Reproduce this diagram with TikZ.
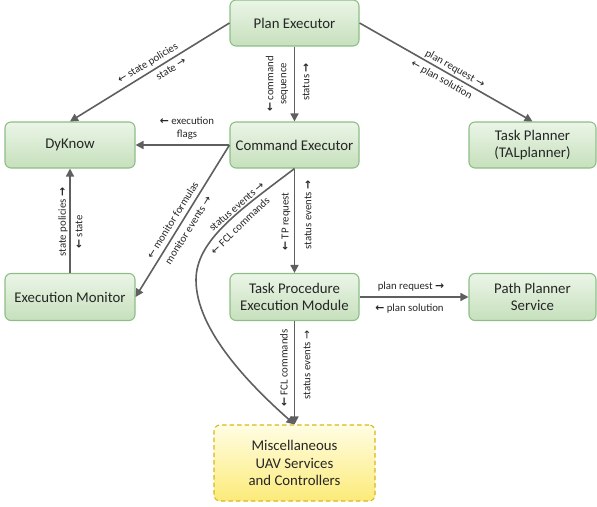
\documentclass[tikz,border=0pt]{standalone}
\usepackage{fontspec}
\setmainfont{Carlito}
\newfontfamily\arrfont{DejaVu Sans}
\usetikzlibrary{arrows.meta}
\definecolor{gtop}{HTML}{EBF5E7}
\definecolor{gbot}{HTML}{C6E0BC}
\definecolor{gborder}{HTML}{8DBE86}
\definecolor{ytop}{HTML}{FFFDE3}
\definecolor{ybot}{HTML}{FCEB79}
\definecolor{yborder}{HTML}{D6B81A}
\definecolor{lne}{HTML}{5F5F5F}
\newcommand{\myla}{{\arrfont ←}}
\newcommand{\myra}{{\arrfont →}}
\newcommand{\myLa}{{\arrfont\bfseries ←}}
\newcommand{\myRa}{{\arrfont\bfseries →}}
\begin{document}
\begin{tikzpicture}[x=1pt,y=-1pt,
 box/.style={draw=gborder, line width=1.1pt, rounded corners=6pt, top color=gtop, bottom color=gbot,
   minimum width=129pt, minimum height=46pt, inner sep=0pt, align=center,
   font=\fontsize{14.8}{17.5}\selectfont, text=black!85},
 miscbox/.style={box, draw=yborder, dash pattern=on 4.5pt off 3pt, top color=ytop, bottom color=ybot,
   minimum width=161pt, minimum height=76pt},
 conn/.style={draw=lne, line width=1.6pt, -{Triangle[length=8pt,width=8pt]}},
 lbl/.style={font=\fontsize{10.8}{13}\selectfont, inner sep=0pt, align=center, text=black!85}]
\useasboundingbox (0,0) rectangle (597,506);

\node[box] (pe) at (294.5,23) {Plan Executor};
\node[box, minimum width=130pt] (dk) at (70,145) {DyKnow};
\node[box] (ce) at (294.5,145) {Command Executor};
\node[box, minimum width=127pt] (tp) at (532.5,145) {Task Planner\\(TALplanner)};
\node[box, minimum width=130pt, minimum height=47pt] (em) at (70,297) {Execution Monitor};
\node[box, minimum height=47pt] (tpem) at (294.5,297) {Task Procedure\\Execution Module};
\node[box, minimum width=127pt, minimum height=47pt] (pps) at (532.5,297) {Path Planner\\Service};
\node[miscbox] (misc) at (294.5,463) {Miscellaneous\\UAV Services\\and Controllers};

\draw[conn] (pe.west) -- (dk.north);
\draw[conn] (pe.east) -- (tp.north);
\draw[conn] (pe.south) -- (ce.north);
\draw[conn] (ce.west) -- (dk.east);
\draw[conn] (ce.west) -- (em.east);
\draw[conn] (em.north) -- (dk.south);
\draw[conn] (ce.south) -- (tpem.north);
\draw[conn] (tpem.east) -- (pps.west);
\draw[conn] (tpem.south) -- (misc.north);
\draw[conn] (ce.south) .. controls (240,210) and (196,240) .. (196,280)
                       .. controls (196,330) and (250,385) .. (misc.north);

\node[lbl, rotate=31.7] (l1) at (148,63.5) {\myla\ state policies};
\node[lbl, rotate=31.7] (l2) at (171,69) {state \myra};
\node[lbl, rotate=-29.6] (l3) at (455,69) {plan request \myra};
\node[lbl, rotate=-29.6] (l4) at (441.5,80) {\myla\ plan solution};
\node[lbl, rotate=90] (l5) at (277,84) {\myLa\ command\\sequence};
\node[lbl, rotate=90] (l6) at (306,82) {status \myRa};
\node[lbl] (l7) at (187,128) {\myLa\ execution\\flags};
\node[lbl, rotate=58] (l8) at (172.5,220) {\myla\ monitor formulas};
\node[lbl, rotate=58] (l9) at (188,230) {monitor events \myra};
\node[lbl, rotate=41] (l10) at (236.7,206.7) {status events \myra};
\node[lbl, rotate=44] (l11) at (240,225.5) {\myla\ FCL commands};
\node[lbl, rotate=90] (l12) at (63,222) {state policies \myRa};
\node[lbl, rotate=90] (l13) at (79,232) {\myLa\ state};
\node[lbl, rotate=90] (l14) at (286,221.5) {\myLa\ TP request};
\node[lbl, rotate=90] (l15) at (308,215) {status events \myRa};
\node[lbl, rotate=90] (l16) at (284,368) {\myLa\ FCL commands};
\node[lbl, rotate=90] (l17) at (307,365) {status events \myra};
\node[lbl] (l18) at (411,287) {plan request \myRa};
\node[lbl] (l19) at (409.5,309) {\myLa\ plan solution};
\end{tikzpicture}
\end{document}
